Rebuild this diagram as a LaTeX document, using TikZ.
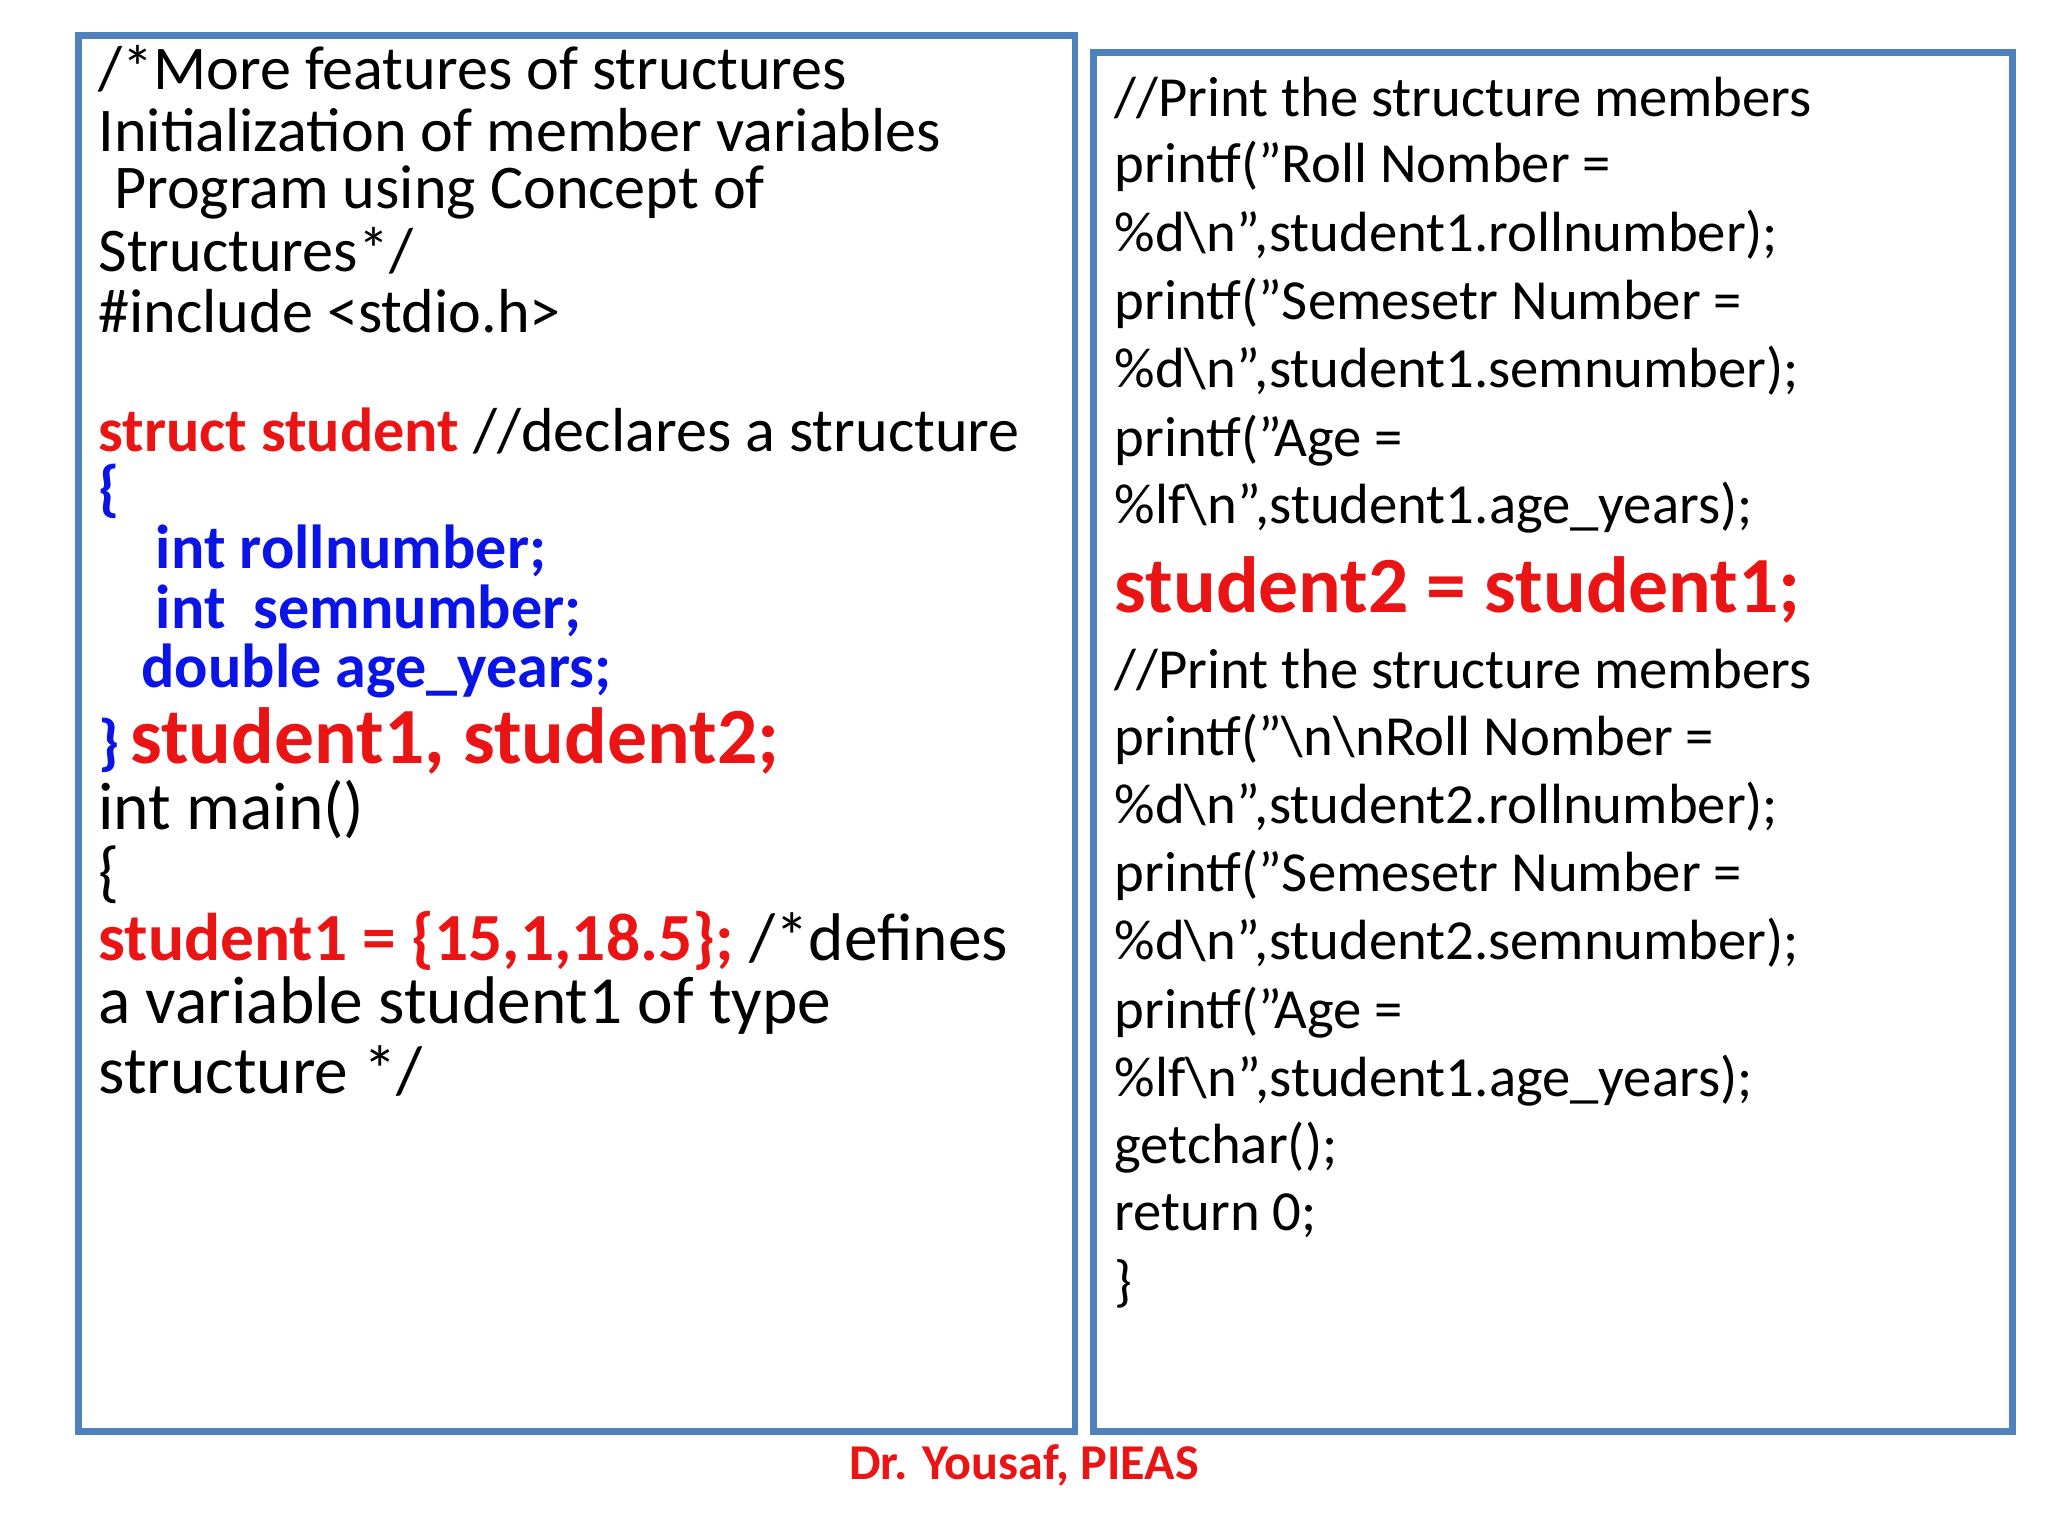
\documentclass[tikz,border=0pt]{standalone}
\usepackage{fontspec}
\setmainfont{Carlito}[Ligatures=ResetAll]
\definecolor{bx}{RGB}{79,129,189}
\definecolor{rd}{RGB}{235,20,20}
\definecolor{bl}{RGB}{10,20,230}
\begin{document}
\begin{tikzpicture}[x=0.5pt,y=-0.5pt,
  L/.style={anchor=west,inner sep=0,font=\fontsize{23.8}{28}\selectfont},
  LL/.style={anchor=west,inner sep=0,font=\fontsize{25.8}{30}\selectfont},
  LB/.style={anchor=west,inner sep=0,text=bl,font=\fontsize{23.8}{28}\selectfont\bfseries},
  R/.style={anchor=west,inner sep=0,font=\fontsize{21.7}{26}\selectfont},
  box/.style={draw=bx,line width=2.5pt}]
\useasboundingbox (0,0) rectangle (1568,1176);
\fill[white] (0,0) rectangle (1568,1176);
\draw[box] (60,27) rectangle (823,1096);
\draw[box] (837,40) rectangle (1541,1096);
% left
\node[L] (l1) at (75,53) {/*More features of structures};
\node[L] (l2) at (75,100) {Initialization of member variables};
\node[L] (l3) at (75,147) {\hspace{6pt}Program using Concept of};
\node[L] (l4) at (75,192) {Structures*/};
\node[L] (l5) at (75,238) {\#include <stdio.h>};
\node[L] (l6) at (75,330) {\textcolor{rd}{\bfseries struct student} //declares a structure};
\node[LB] (l7) at (75,376) {\{};
\node[LB] (l8) at (119,422) {int rollnumber;};
\node[LB] (l9) at (119,468) {int\ \ semnumber;};
\node[LB] (l10) at (108,514) {double age\_years;};
\node[L,font=\bfseries] (l11) at (75,567) {\textcolor{bl}{\fontsize{23.8}{28}\selectfont\}}\hspace{4pt}\textcolor{rd}{\fontsize{30.5}{36}\selectfont student1, student2;}};
\node[LL] (l12) at (75,620) {int main()};
\node[LL] (l13) at (75,670) {\{};
\node[LL] (l14) at (75,720) {\textcolor{rd}{\bfseries student1 = \{15,1,18.5\};} /*defines};
\node[LL] (l15) at (75,770) {a variable student1 of type};
\node[LL] (l16) at (75,820) {structure */};
% right
\node[R] (r1) at (853,75) {//Print the structure members};
\node[R] (r2) at (853,127) {printf("Roll Nomber =};
\node[R] (r3) at (853,180) {\%d\textbackslash n",student1.rollnumber);};
\node[R] (r4) at (853,232) {printf("Semesetr Number =};
\node[R] (r5) at (853,284) {\%d\textbackslash n",student1.semnumber);};
\node[R] (r6) at (853,337) {printf("Age =};
\node[R] (r7) at (853,389) {\%lf\textbackslash n",student1.age\_years);};
\node[R,text=rd,font=\fontsize{30.5}{36}\selectfont\bfseries] (r8) at (853,452) {student2 = student1;};
\node[R] (r9) at (853,513) {//Print the structure members};
\node[R] (r10) at (853,566) {printf("\textbackslash n\textbackslash nRoll Nomber =};
\node[R] (r11) at (853,618) {\%d\textbackslash n",student2.rollnumber);};
\node[R] (r12) at (853,670) {printf("Semesetr Number =};
\node[R] (r13) at (853,722) {\%d\textbackslash n",student2.semnumber);};
\node[R] (r14) at (853,775) {printf("Age =};
\node[R] (r15) at (853,827) {\%lf\textbackslash n",student1.age\_years);};
\node[R] (r16) at (853,879) {getchar();};
\node[R] (r17) at (853,931) {return 0;};
\node[R] (r18) at (853,983) {\}};
\node[inner sep=0,text=rd,font=\fontsize{19.2}{23}\selectfont\bfseries] (ft) at (784,1122) {Dr. Yousaf, PIEAS};
\end{tikzpicture}
\end{document}
